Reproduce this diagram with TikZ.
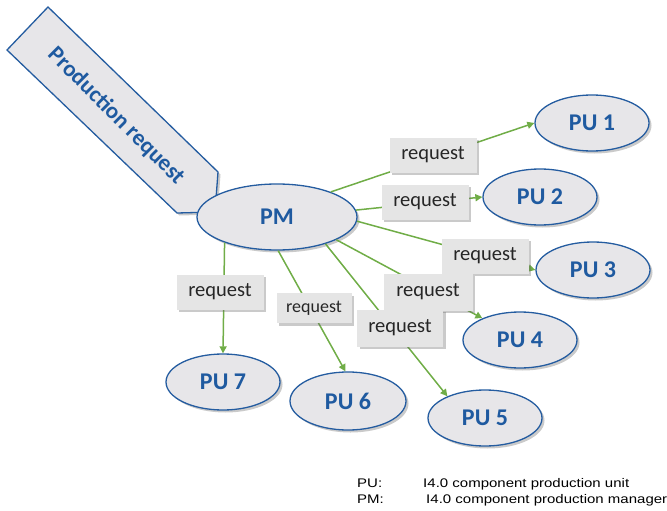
\documentclass[tikz,border=0pt]{standalone}
\usepackage{fontspec}
\setmainfont{Carlito}
\newfontfamily\legendfont{Liberation Sans}
\usetikzlibrary{shapes.geometric,shadows,arrows.meta}
\definecolor{pblue}{RGB}{31,90,160}
\definecolor{pborder}{RGB}{36,92,160}
\definecolor{pfill}{RGB}{231,230,233}
\definecolor{bfill}{RGB}{229,229,229}
\definecolor{pgreen}{RGB}{112,173,71}
\tikzset{
  shad/.style={drop shadow={shadow xshift=2.5pt,shadow yshift=-2.5pt,opacity=0.35,fill=black!60}},
  pu/.style={ellipse,draw=pborder,line width=1.3pt,fill=pfill,shad,minimum width=114pt,minimum height=56pt,inner sep=0pt,text=pblue,font=\fontsize{24}{24}\selectfont\bfseries},
  reqbox/.style={rectangle,fill=bfill,shad,minimum width=87pt,minimum height=35pt,inner sep=0pt,font=\fontsize{20.5}{20.5}\selectfont,text=black!85},
  conn/.style={draw=pgreen,line width=1.5pt,-{Triangle[width=7pt,length=7pt]}},
  legend/.style={anchor=base west,font=\legendfont\fontsize{12.5}{12.5}\selectfont,inner sep=0pt,xscale=1.2},
}
\begin{document}
\begin{tikzpicture}[x=1pt,y=-1pt]
\useasboundingbox (0,0) rectangle (667,511);
% production request arrow
\draw[pborder,line width=1.3pt,fill=pfill,shad] (48,7) -- (218,172) -- (215,212) -- (177,213) -- (7,50) -- cycle;
\node[rotate=-45,text=pblue,font=\fontsize{23}{23}\selectfont\bfseries] (prodreq) at (116,116) {Production request};
% nodes
\node[pu,minimum width=160pt,minimum height=66pt,font=\fontsize{24}{24}\selectfont\bfseries] (pm) at (277,217) {PM};
\node[pu] (pu1) at (592,123) {PU 1};
\node[pu] (pu2) at (540,197) {PU 2};
\node[pu] (pu3) at (593,270) {PU 3};
\node[pu] (pu4) at (520,340) {PU 4};
\node[pu] (pu5) at (485,418) {PU 5};
\node[pu,minimum width=116pt,minimum height=58pt] (pu6) at (348,401) {PU 6};
\node[pu] (pu7) at (223,382) {PU 7};
% connectors
\draw[conn] (pm.25) -- (pu1.west);
\draw[conn] (pm.5) -- (pu2.west);
\draw[conn] (pm.-3) -- (pu3.west);
\draw[conn] (pm.-21) -- (pu4.150);
\draw[conn] (pm.-29) -- (pu5.150);
\draw[conn] (pm.-88) -- (pu6.95);
\draw[conn] (pm.-154) -- (pu7.north);
% labels
\node[reqbox] (r1) at (433,155) {request};
\node[reqbox] (r2) at (425,202) {request};
\node[reqbox] (r3) at (485,256) {request};
\node[reqbox,minimum width=89pt,minimum height=37pt] (r4) at (428,292) {request};
\node[reqbox,minimum width=86pt,minimum height=37pt] (r5) at (400,328) {request};
\node[reqbox,minimum width=75pt,minimum height=30pt,font=\fontsize{18}{18}\selectfont] (r6) at (314,308) {request};
\node[reqbox] (r7) at (220,292) {request};
% legend
\node[legend] (l1) at (357,487) {PU:};
\node[legend] (l2) at (423,487) {I4.0 component production unit};
\node[legend] (l3) at (357,503) {PM:};
\node[legend] (l4) at (426,503) {I4.0 component production manager};
\end{tikzpicture}
\end{document}
